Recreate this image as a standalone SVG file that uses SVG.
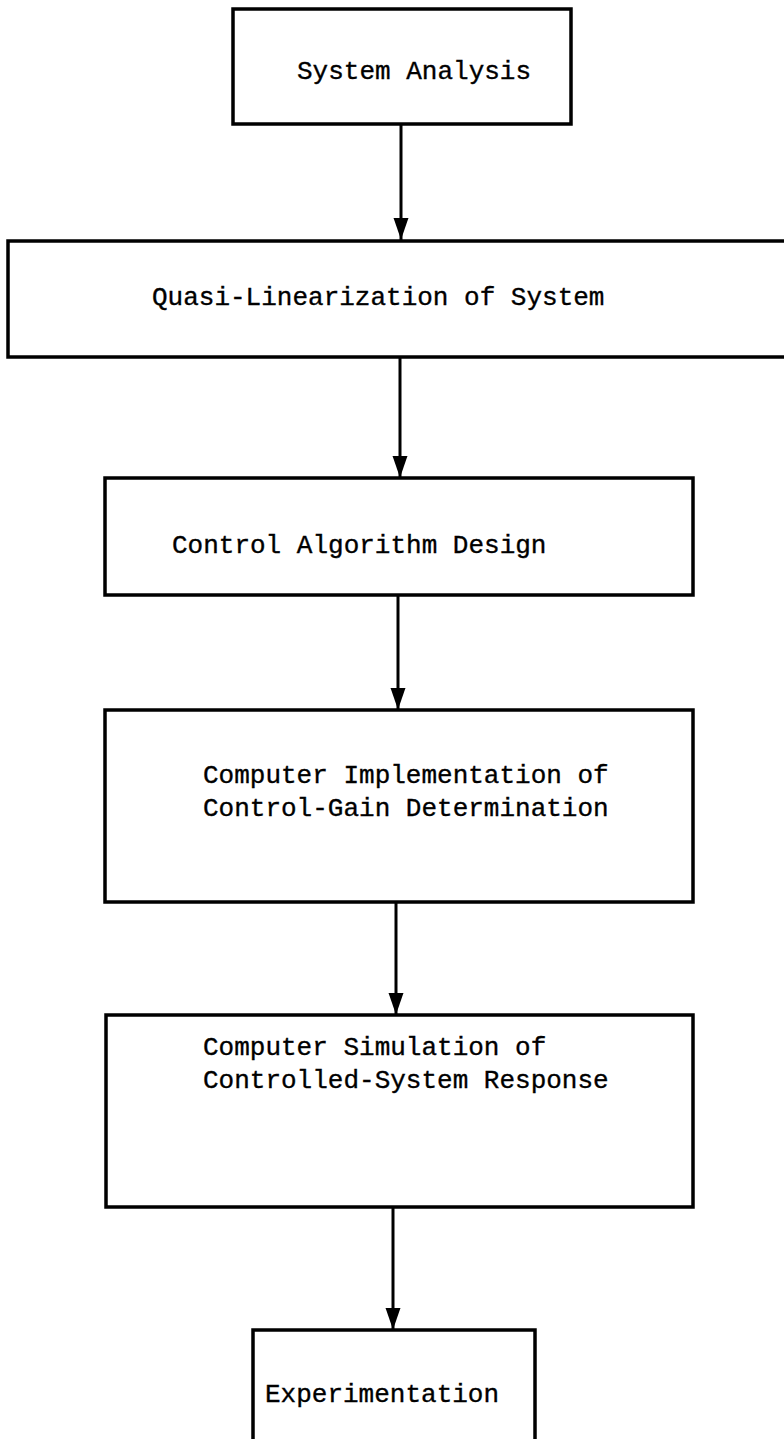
<svg xmlns="http://www.w3.org/2000/svg" width="784" height="1439" viewBox="0 0 784 1439">
<style>
.box{fill:#fff;stroke:#000;stroke-width:3.5}
.lbl{font-family:"Liberation Mono","Courier New",monospace;font-size:26px;fill:#000;stroke:#000;stroke-width:0.35}
.con{stroke:#000;stroke-width:3;fill:none}
</style>
<defs>
<marker id="ah" markerUnits="userSpaceOnUse" markerWidth="24" markerHeight="18" viewBox="-22 -9 24 18" refX="0" refY="0" orient="auto">
<path d="M0,0 C-5,-1.5 -12,-4 -22,-7.5 L-22,7.5 C-12,4 -5,1.5 0,0 Z" fill="#000"/>
</marker>
</defs>
<rect width="784" height="1439" fill="#fff"/>
<g id="connectors">
<line class="con" x1="401" y1="124" x2="401" y2="240" marker-end="url(#ah)"/>
<line class="con" x1="400" y1="357" x2="400" y2="478" marker-end="url(#ah)"/>
<line class="con" x1="398" y1="595" x2="398" y2="710" marker-end="url(#ah)"/>
<line class="con" x1="396" y1="902" x2="396" y2="1015" marker-end="url(#ah)"/>
<line class="con" x1="393" y1="1207" x2="393" y2="1330" marker-end="url(#ah)"/>
</g>
<g id="n1">
<rect class="box" x="233" y="9" width="338" height="115"/>
<text class="lbl" x="297" y="79">System Analysis</text>
</g>
<g id="n2">
<rect class="box" x="8" y="241" width="784" height="116"/>
<text class="lbl" x="152" y="305">Quasi-Linearization of System</text>
</g>
<g id="n3">
<rect class="box" x="105" y="478" width="588" height="117"/>
<text class="lbl" x="172" y="553">Control Algorithm Design</text>
</g>
<g id="n4">
<rect class="box" x="105" y="710" width="588" height="192"/>
<text class="lbl" x="203" y="783">Computer Implementation of</text>
<text class="lbl" x="203" y="816">Control-Gain Determination</text>
</g>
<g id="n5">
<rect class="box" x="106" y="1015" width="587" height="192"/>
<text class="lbl" x="203" y="1055">Computer Simulation of</text>
<text class="lbl" x="203" y="1088">Controlled-System Response</text>
</g>
<g id="n6">
<rect class="box" x="253" y="1330" width="282" height="130"/>
<text class="lbl" x="265" y="1402">Experimentation</text>
</g>
</svg>
